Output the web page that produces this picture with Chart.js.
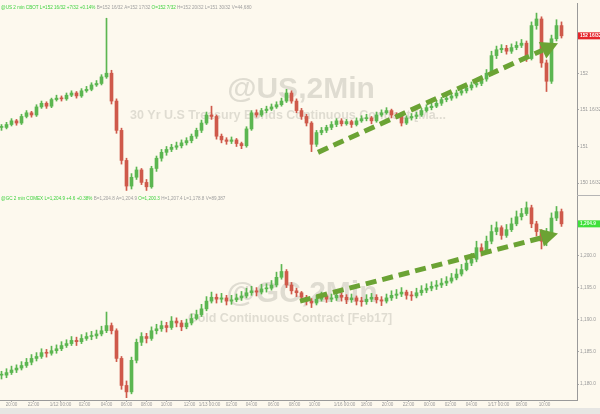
<!DOCTYPE html>
<html>
<head>
<meta charset="utf-8">
<script src="https://cdn.jsdelivr.net/npm/chart.js@4"></script>
<style>
  html, body { margin: 0; padding: 0; background: #fdf9ee; }
  #wrap { width: 600px; height: 408px; }
  #strip { width: 600px; height: 6px; background: #e6e6e3; }
</style>
</head>
<body>
<div id="wrap"><canvas id="chart" width="600" height="408"></canvas></div>
<div id="strip"></div>
<script>
// 30 Yr T-Bond (@US) candles, one per slot
const usClose = [151.26,151.30,151.35,151.32,151.41,151.46,151.43,151.54,151.59,151.55,
  151.64,151.66,151.65,151.70,151.73,151.69,151.76,151.78,151.84,151.86,
  151.95,152.00,151.62,151.22,150.81,150.46,150.58,150.68,150.51,150.45,
  150.70,150.84,150.92,150.96,150.99,151.01,151.05,151.08,151.14,151.22,
  151.32,151.43,151.41,151.14,151.09,151.07,151.09,151.04,151.01,151.24,
  151.46,151.43,151.49,151.51,151.54,151.57,151.62,151.73,151.62,151.49,
  151.41,151.32,151.03,151.19,151.22,151.26,151.30,151.35,151.31,151.34,
  151.30,151.35,151.38,151.39,151.35,151.43,151.46,151.49,151.43,151.42,
  151.32,151.39,151.41,151.43,151.49,151.53,151.55,151.59,151.64,151.66,
  151.69,151.73,151.76,151.80,151.84,151.86,151.92,152.00,152.24,152.32,
  152.34,152.30,152.35,152.38,152.41,152.20,152.65,152.74,152.14,151.89,
  152.47,152.65,152.51];
const usHigh = [151.30,151.33,151.38,151.37,151.44,151.49,151.48,151.57,151.62,151.61,
  151.66,151.70,151.69,151.73,151.76,151.75,151.79,151.82,151.87,151.90,
  151.98,152.75,152.04,151.65,151.25,150.84,150.63,150.72,150.70,150.55,
  150.73,150.87,150.96,151.00,151.03,151.06,151.09,151.12,151.17,151.25,
  151.36,151.47,151.55,151.43,151.17,151.12,151.13,151.11,151.06,151.27,
  151.49,151.50,151.52,151.55,151.58,151.61,151.66,151.78,151.76,151.65,
  151.52,151.44,151.34,151.22,151.26,151.29,151.34,151.38,151.38,151.37,
  151.36,151.39,151.42,151.44,151.41,151.47,151.50,151.53,151.51,151.46,
  151.44,151.42,151.45,151.47,151.52,151.57,151.59,151.63,151.67,151.70,
  151.73,151.77,151.80,151.84,151.88,151.91,151.96,152.05,152.30,152.37,
  152.39,152.38,152.40,152.43,152.46,152.44,152.70,152.82,152.77,152.18,
  152.52,152.73,152.70];
const usLow = [151.22,151.24,151.28,151.29,151.30,151.39,151.40,151.41,151.52,151.52,
  151.53,151.62,151.62,151.63,151.68,151.66,151.67,151.74,151.76,151.82,
  151.84,151.93,151.58,151.18,150.76,150.40,150.42,150.55,150.48,150.40,
  150.43,150.66,150.80,150.88,150.93,150.96,150.98,151.02,151.05,151.11,
  151.19,151.30,151.37,151.10,151.05,151.03,151.04,151.00,150.97,150.99,
  151.22,151.40,151.41,151.46,151.49,151.52,151.55,151.60,151.59,151.46,
  151.37,151.28,150.93,151.00,151.16,151.19,151.23,151.27,151.28,151.29,
  151.26,151.28,151.33,151.35,151.31,151.33,151.41,151.44,151.39,151.38,
  151.28,151.30,151.36,151.38,151.41,151.47,151.50,151.53,151.56,151.61,
  151.63,151.66,151.70,151.73,151.77,151.81,151.83,151.89,151.97,152.20,
  152.28,152.26,152.27,152.32,152.35,152.16,152.18,152.60,152.08,151.75,
  151.86,152.44,152.48];

// Gold (@GC) candles, same slots
const gcClose = [1181.4,1181.8,1182.2,1182.5,1182.9,1183.4,1184.0,1184.3,1184.9,1184.8,
  1185.2,1185.5,1186.0,1186.3,1186.8,1186.6,1187.1,1187.4,1187.5,1187.8,
  1188.3,1189.1,1188.3,1184.0,1179.8,1178.8,1183.7,1186.5,1187.4,1187.1,
  1188.3,1188.6,1189.1,1188.8,1189.8,1189.5,1188.9,1189.5,1190.2,1190.8,
  1191.7,1192.9,1193.5,1193.2,1193.4,1192.9,1193.1,1193.4,1193.7,1194.2,
  1194.5,1194.3,1194.8,1194.9,1195.4,1196.6,1197.5,1195.4,1194.5,1194.2,
  1193.5,1192.9,1192.6,1193.2,1193.7,1193.2,1193.4,1193.8,1193.5,1193.1,
  1193.4,1192.9,1192.8,1193.2,1193.5,1193.1,1192.9,1193.4,1193.8,1194.0,
  1194.3,1193.8,1193.7,1194.2,1194.6,1194.9,1195.2,1195.4,1195.7,1196.0,
  1196.5,1197.1,1197.8,1198.8,1199.4,1201.2,1200.6,1202.2,1203.7,1204.3,
  1203.1,1204.0,1204.9,1206.0,1206.5,1207.4,1204.9,1203.7,1202.2,1203.4,
  1205.8,1206.8,1204.9];
const gcHigh = [1182.0,1182.4,1182.8,1183.0,1183.5,1184.0,1184.6,1184.9,1185.5,1185.4,
  1185.9,1186.1,1186.6,1186.9,1187.4,1187.3,1187.7,1188.0,1188.2,1188.4,
  1189.0,1191.2,1189.5,1188.6,1184.3,1180.5,1184.2,1187.0,1188.0,1187.9,
  1188.9,1189.3,1189.8,1189.6,1190.5,1190.3,1189.9,1190.1,1190.9,1191.5,
  1192.4,1193.6,1194.3,1194.0,1194.1,1193.8,1193.8,1194.0,1194.4,1194.9,
  1195.2,1195.0,1195.5,1195.6,1196.1,1197.4,1198.6,1197.8,1195.8,1194.9,
  1194.4,1193.8,1193.3,1193.8,1194.3,1194.0,1194.0,1194.5,1194.2,1193.9,
  1194.0,1193.7,1193.5,1193.9,1194.1,1193.9,1193.6,1194.0,1194.5,1194.7,
  1195.0,1194.6,1194.4,1194.9,1195.3,1195.6,1195.9,1196.1,1196.4,1196.7,
  1197.2,1197.9,1198.6,1199.6,1200.3,1202.2,1201.8,1203.0,1204.7,1205.2,
  1204.6,1204.8,1205.8,1206.9,1207.3,1208.3,1207.8,1205.3,1204.0,1204.2,
  1206.6,1207.6,1207.2];
const gcLow = [1180.8,1181.0,1181.5,1181.8,1182.2,1182.6,1183.0,1183.6,1184.0,1184.2,
  1184.5,1184.8,1185.2,1185.7,1186.0,1186.0,1186.3,1186.8,1186.9,1187.1,
  1187.5,1188.0,1187.8,1183.5,1179.2,1177.9,1178.5,1183.3,1186.0,1186.4,
  1186.8,1187.8,1188.2,1188.1,1188.5,1188.9,1188.3,1188.6,1189.2,1190.0,
  1190.5,1191.4,1192.6,1192.6,1192.7,1192.3,1192.4,1192.8,1193.0,1193.4,
  1193.8,1193.7,1194.0,1194.3,1194.6,1195.1,1196.3,1195.0,1194.0,1193.6,
  1193.0,1192.3,1191.9,1192.3,1192.9,1192.7,1192.8,1193.0,1192.9,1192.5,
  1192.7,1192.3,1192.1,1192.4,1192.8,1192.6,1192.2,1192.6,1193.0,1193.3,
  1193.6,1193.2,1193.0,1193.4,1193.8,1194.2,1194.5,1194.7,1195.0,1195.3,
  1195.7,1196.2,1196.8,1197.6,1198.4,1199.0,1199.9,1200.3,1201.8,1203.2,
  1202.5,1202.8,1203.7,1204.6,1205.5,1206.2,1204.3,1203.0,1201.0,1201.5,
  1203.0,1205.4,1204.5];

// axis ticks
const usTicks = [150.5, 151, 151.5, 152];
const usTickLabels = ['150 16/32', '151', '151 16/32', '152'];
const gcTicks = [1180, 1185, 1190, 1195, 1200];
const gcTickLabels = ['1,180.0', '1,185.0', '1,190.0', '1,195.0', '1,200.0'];
const timePos = [2, 6.4, 11.8, 16.6, 21, 25, 29, 33, 37.6, 41.6, 46, 50, 54.4, 58.6,
  62.6, 68.6, 73, 77.2, 81.4, 85.6, 89.8, 94, 99.4, 104, 108.6];
const timeLabels = ['20:00', '22:00', '1/12 00:00', '02:00', '04:00', '06:00', '08:00', '10:00',
  '12:00', '1/13 00:00', '02:00', '04:00', '06:00', '08:00', '10:00', '1/16 00:00', '18:00',
  '20:00', '22:00', '00:00', '02:00', '04:00', '1/17 00:00', '08:00', '10:00'];

const usLast = '152 16/32';
const gcLast = '1,204.9';
const usTrend = [[63.3, 150.92], [111.3, 152.41]];
const gcTrend = [[59.7, 1192.9], [111.3, 1203.4]];

const UP = '#5cb651';
const DOWN = '#cf5a4b';

function candleSets(close, high, low, axis) {
  const open = close.map((c, i) => i ? close[i - 1] : c);
  const col = close.map((c, i) => c >= open[i] ? UP : DOWN);
  return [{
    data: close.map((c, i) => ({ x: i, y: [low[i], high[i]] })),
    yAxisID: axis, backgroundColor: col, barThickness: 1, grouped: false
  }, {
    data: close.map((c, i) => ({ x: i, y: [open[i], c] })),
    yAxisID: axis, backgroundColor: col, barThickness: 3, minBarLength: 1, grouped: false
  }];
}

const headers = [
  { axis: 'yUS', parts: [
    ['@US 2 min CBOT L=152 16/32 +7/32 +0.14% ', '#3fd23f'],
    ['B=152 16/32 A=152 17/32 ', '#a0a0a0'],
    ['O=152 7/32 ', '#3fd23f'],
    ['H=152 20/32 L=151 30/32 V=44,680', '#a0a0a0']] },
  { axis: 'yGC', parts: [
    ['@GC 2 min COMEX L=1,204.9 +4.6 +0.38% ', '#3fd23f'],
    ['B=1,204.8 A=1,204.9 ', '#a0a0a0'],
    ['O=1,200.3 ', '#3fd23f'],
    ['H=1,207.4 L=1,178.8 V=89,387', '#a0a0a0']] }
];

const decor = {
  id: 'decor',
  beforeDatasetsDraw(chart) {
    const ctx = chart.ctx;
    ctx.save();
    ctx.fillStyle = 'rgba(120,118,110,0.22)';
    ctx.textAlign = 'center';
    ctx.textBaseline = 'middle';
    ctx.font = 'bold 30px "Liberation Sans", Arial, sans-serif';
    ctx.fillText('@US,2Min', 301, 90);
    ctx.fillText('@GC,2Min', 302, 294);
    ctx.font = 'bold 12.5px "Liberation Sans", Arial, sans-serif';
    ctx.fillText('30 Yr U.S Treasury Bonds Continuous Contract [Ma...', 288, 116);
    ctx.fillText('Gold Continuous Contract [Feb17]', 290, 319);
    ctx.restore();
  },
  afterDatasetsDraw(chart) {
    const ctx = chart.ctx, x = chart.scales.x;
    const arrow = (pts, axis) => {
      const y = chart.scales[axis];
      const x0 = x.getPixelForValue(pts[0][0]), y0 = y.getPixelForValue(pts[0][1]);
      const x1 = x.getPixelForValue(pts[1][0]), y1 = y.getPixelForValue(pts[1][1]);
      const a = Math.atan2(y1 - y0, x1 - x0), head = 17, hw = 9;
      const bx = x1 - head * Math.cos(a), by = y1 - head * Math.sin(a);
      ctx.save();
      ctx.strokeStyle = '#6ba334';
      ctx.fillStyle = '#6ba334';
      ctx.lineWidth = 5;
      ctx.setLineDash([11, 6]);
      ctx.beginPath(); ctx.moveTo(x0, y0); ctx.lineTo(bx, by); ctx.stroke();
      ctx.setLineDash([]);
      ctx.beginPath();
      ctx.moveTo(x1, y1);
      ctx.lineTo(bx + hw * Math.sin(a), by - hw * Math.cos(a));
      ctx.lineTo(bx - hw * Math.sin(a), by + hw * Math.cos(a));
      ctx.closePath(); ctx.fill();
      ctx.restore();
    };
    arrow(usTrend, 'yUS');
    arrow(gcTrend, 'yGC');
  },
  afterDraw(chart) {
    const ctx = chart.ctx, area = chart.chartArea;
    ctx.save();
    // headers
    ctx.font = '4.6px "Liberation Sans", Arial, sans-serif';
    ctx.textBaseline = 'middle';
    headers.forEach(h => {
      let px = 1;
      const py = chart.scales[h.axis].top + 4;
      h.parts.forEach(([t, c]) => {
        ctx.fillStyle = c;
        ctx.fillText(t, px, py);
        px += ctx.measureText(t).width;
      });
    });
    // panel separator in the axis column
    const sep = chart.scales.yUS.bottom + 0.5;
    ctx.strokeStyle = '#b5b5b5';
    ctx.lineWidth = 1;
    ctx.beginPath(); ctx.moveTo(area.right, sep); ctx.lineTo(chart.width, sep); ctx.stroke();
    // last price boxes
    const box = (axis, val, txt, bg, fg) => {
      const y = chart.scales[axis].getPixelForValue(val);
      ctx.fillStyle = bg;
      ctx.fillRect(area.right + 1, y - 3.5, chart.width - area.right - 1, 7);
      ctx.fillStyle = fg;
      ctx.font = 'bold 4.8px "Liberation Sans", Arial, sans-serif';
      ctx.fillText(txt, area.right + 3, y);
    };
    box('yUS', usClose[usClose.length - 1], usLast, '#e5262b', '#ffffff');
    box('yGC', gcClose[gcClose.length - 1], gcLast, '#3fe03a', '#eaffea');
    ctx.restore();
  }
};

const yAxis = (ticks, labels, min, max, weight) => ({
  type: 'linear', position: 'right', stack: 'panels', stackWeight: weight,
  min: min, max: max,
  afterBuildTicks: s => { s.ticks = ticks.map(v => ({ value: v })); },
  afterFit: s => { s.width = 23; },
  grid: { drawOnChartArea: false, tickLength: 2, color: '#aaa' },
  border: { color: '#9a9a9a' },
  ticks: { autoSkip: false, padding: 1, color: '#9a9a9a',
    font: { size: 4.8, family: '"Liberation Sans", Arial, sans-serif' },
    callback: (v, i) => labels[i] }
});

new Chart(document.getElementById('chart'), {
  type: 'bar',
  data: {
    datasets: [...candleSets(usClose, usHigh, usLow, 'yUS'),
               ...candleSets(gcClose, gcHigh, gcLow, 'yGC')]
  },
  options: {
    responsive: false,
    animation: false,
    devicePixelRatio: 1,
    layout: { padding: 0, autoPadding: false },
    plugins: { legend: { display: false }, tooltip: { enabled: false } },
    scales: {
      x: {
        type: 'linear', min: -0.3, max: 115.1, position: 'bottom', offset: false,
        afterBuildTicks: s => { s.ticks = timePos.map(v => ({ value: v })); },
        afterFit: s => { s.height = 8; },
        grid: { drawOnChartArea: false, tickLength: 2, color: '#aaa', offset: false },
        border: { color: '#9a9a9a' },
        ticks: { autoSkip: false, maxRotation: 0, padding: 0, color: '#9a9a9a',
          font: { size: 4.6, family: '"Liberation Sans", Arial, sans-serif' },
          callback: (v, i) => timeLabels[i] }
      },
      yUS: yAxis(usTicks, usTickLabels, 150.338, 152.946, 193),
      yGC: yAxis(gcTicks, gcTickLabels, 1177.54, 1209.38, 207)
    }
  },
  plugins: [decor]
});
</script>
</body>
</html>
